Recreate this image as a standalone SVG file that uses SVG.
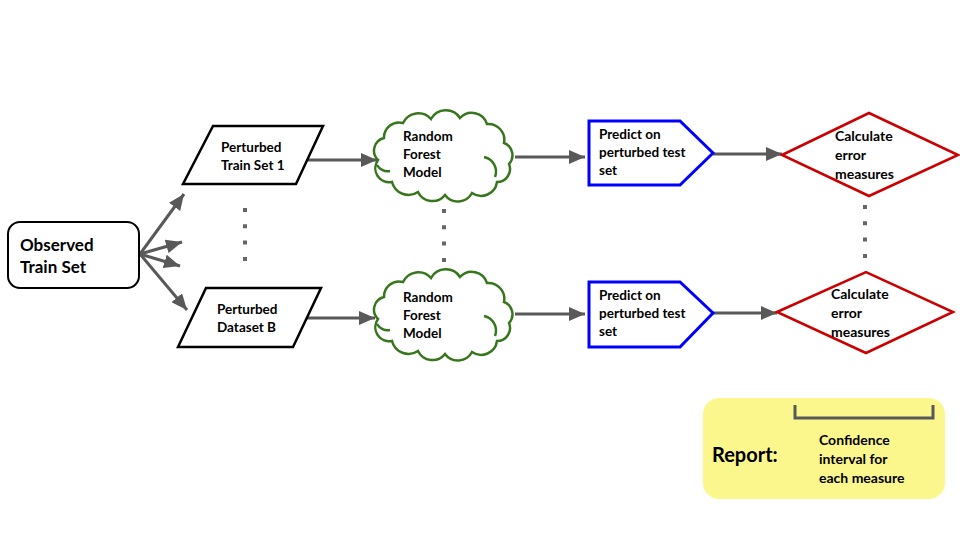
<svg xmlns="http://www.w3.org/2000/svg" width="960" height="540" viewBox="0 0 960 540">
<defs>
<marker id="ah" markerUnits="userSpaceOnUse" markerWidth="17" markerHeight="14" refX="16" refY="7" orient="auto">
<path d="M0,0 L16,7 L0,14 z" fill="#595959"/>
</marker>
<path id="cloud" d="M11,25 A15,15 0 0 1 30,10 A17,17 0 0 1 58,6 A17,17 0 0 1 87,5 A16,16 0 0 1 114,11 A16,16 0 0 1 131,30 A13,13 0 0 1 136,51 A13,13 0 0 1 124,69 A16,16 0 0 1 99,80 A16,16 0 0 1 72,82 A16,16 0 0 1 45,79 A17,17 0 0 1 19,69 A14,14 0 0 1 5,47 A13,13 0 0 1 11,25 Z"/>
</defs>
<style>
.t{font-family:Lato,"Open Sans","Liberation Sans",sans-serif;font-weight:bold;fill:#000}
.s13{font-size:13.5px}
.s14{font-size:14px}
.conn line{stroke:#595959;stroke-width:3;fill:none}
.dots line{stroke:#666;stroke-width:4;stroke-dasharray:4 12.3}
.para{fill:#fff;stroke:#000;stroke-width:2.5}
.cl{fill:#fff;stroke:#38761d;stroke-width:2.5}
.clin{fill:none;stroke:#38761d;stroke-width:2.5}
.pred{fill:#fff;stroke:#0000ff;stroke-width:3}
.dia{fill:#fff;stroke:#cc0000;stroke-width:2.5}
</style>
<rect width="960" height="540" fill="#fff"/>

<g class="conn">
<line x1="140" y1="254" x2="184" y2="194" marker-end="url(#ah)"/>
<line x1="140" y1="254" x2="182" y2="242" marker-end="url(#ah)"/>
<line x1="140" y1="254" x2="180" y2="266" marker-end="url(#ah)"/>
<line x1="140" y1="254" x2="187" y2="310" marker-end="url(#ah)"/>
<line x1="308" y1="160" x2="377" y2="160" marker-end="url(#ah)"/>
<line x1="307" y1="318" x2="375" y2="318" marker-end="url(#ah)"/>
<line x1="515" y1="157" x2="585" y2="157" marker-end="url(#ah)"/>
<line x1="515" y1="314" x2="585" y2="314" marker-end="url(#ah)"/>
<line x1="713" y1="154" x2="782" y2="154" marker-end="url(#ah)"/>
<line x1="713" y1="313" x2="777" y2="313" marker-end="url(#ah)"/>
</g>

<g class="dots">
<line x1="245" y1="208" x2="245" y2="262"/>
<line x1="444" y1="209" x2="444" y2="262"/>
<line x1="865" y1="205" x2="865" y2="258"/>
</g>

<g id="observed">
<rect x="8" y="222" width="131" height="66" rx="12" fill="#fff" stroke="#000" stroke-width="2"/>
<text class="t" x="20" y="251" font-size="17">Observed</text>
<text class="t" x="20" y="273" font-size="17">Train Set</text>
</g>

<g id="perturbed1">
<polygon class="para" points="213,126 323,126 296,184 183,184"/>
<text class="t s13" x="221" y="152">Perturbed</text>
<text class="t s13" x="221" y="170">Train Set 1</text>
</g>

<g id="perturbedB">
<polygon class="para" points="206,288 321,288 293,347 178,347"/>
<text class="t s13" x="217" y="314">Perturbed</text>
<text class="t s13" x="217" y="332">Dataset B</text>
</g>

<g id="rf1" transform="translate(373,113)">
<use href="#cloud" class="cl"/>
<path class="clin" d="M111,44 A15,15 0 0 1 122,64"/>
<path class="clin" d="M4,52 A12,12 0 0 0 17,58"/>
<text class="t s13" x="30" y="28">Random</text>
<text class="t s13" x="30" y="46">Forest</text>
<text class="t s13" x="30" y="64">Model</text>
</g>

<g id="rf2" transform="translate(373,272)">
<use href="#cloud" class="cl"/>
<path class="clin" d="M111,44 A15,15 0 0 1 122,64"/>
<path class="clin" d="M4,52 A12,12 0 0 0 17,58"/>
<text class="t s13" x="30" y="30">Random</text>
<text class="t s13" x="30" y="48">Forest</text>
<text class="t s13" x="30" y="66">Model</text>
</g>

<g id="predict1">
<polygon class="pred" points="589,121 680,121 713,153 680,185 589,185"/>
<text class="t s13" x="599" y="139">Predict on</text>
<text class="t s13" x="599" y="157">perturbed test</text>
<text class="t s13" x="599" y="175">set</text>
</g>

<g id="predict2">
<polygon class="pred" points="589,282 680,282 713,313 680,347 589,347"/>
<text class="t s13" x="599" y="300">Predict on</text>
<text class="t s13" x="599" y="318">perturbed test</text>
<text class="t s13" x="599" y="336">set</text>
</g>

<g id="calc1">
<polygon class="dia" points="782,155 869,113 958,155 869,196"/>
<text class="t s14" x="835" y="141">Calculate</text>
<text class="t s14" x="835" y="160">error</text>
<text class="t s14" x="835" y="179">measures</text>
</g>

<g id="calc2">
<polygon class="dia" points="777,312 866,272 953,312 866,353"/>
<text class="t s14" x="831" y="299">Calculate</text>
<text class="t s14" x="831" y="318">error</text>
<text class="t s14" x="831" y="337">measures</text>
</g>

<g id="report">
<rect x="703" y="398" width="242" height="101" rx="16" fill="#fbf78c"/>
<path d="M795,405 V418 H933 V405" fill="none" stroke="#595959" stroke-width="3"/>
<text class="t" x="712" y="462" font-size="20">Report:</text>
<text class="t s14" x="819" y="445">Confidence</text>
<text class="t s14" x="819" y="464">interval for</text>
<text class="t s14" x="819" y="483">each measure</text>
</g>
</svg>
